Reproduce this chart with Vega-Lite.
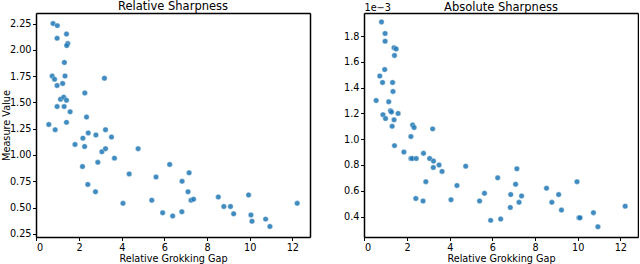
{
  "$schema": "https://vega.github.io/schema/vega-lite/v6.json",
  "padding": {"left": 0, "top": 0, "right": 0, "bottom": 0},
  "datasets": {
    "relative": [
      {"gap": 0.78, "value": 2.25}, {"gap": 0.98, "value": 2.23}, {"gap": 1.41, "value": 2.15}, {"gap": 0.97, "value": 2.11},
      {"gap": 1.47, "value": 2.06}, {"gap": 1.42, "value": 2.04}, {"gap": 1.31, "value": 1.88}, {"gap": 0.74, "value": 1.75},
      {"gap": 0.85, "value": 1.72}, {"gap": 1.34, "value": 1.75}, {"gap": 3.19, "value": 1.73}, {"gap": 1.23, "value": 1.68},
      {"gap": 0.97, "value": 1.66}, {"gap": 2.27, "value": 1.59}, {"gap": 1.13, "value": 1.53}, {"gap": 1.28, "value": 1.55},
      {"gap": 1.41, "value": 1.52}, {"gap": 0.97, "value": 1.46}, {"gap": 1.30, "value": 1.46}, {"gap": 1.58, "value": 1.41},
      {"gap": 2.35, "value": 1.36}, {"gap": 1.41, "value": 1.31}, {"gap": 0.58, "value": 1.29}, {"gap": 0.88, "value": 1.24},
      {"gap": 3.24, "value": 1.24}, {"gap": 1.81, "value": 1.10}, {"gap": 2.18, "value": 1.16}, {"gap": 2.43, "value": 1.21},
      {"gap": 2.79, "value": 1.19}, {"gap": 3.52, "value": 1.17}, {"gap": 2.26, "value": 1.08}, {"gap": 3.07, "value": 1.03},
      {"gap": 3.24, "value": 1.06}, {"gap": 4.77, "value": 1.06}, {"gap": 3.66, "value": 0.97}, {"gap": 2.88, "value": 0.93},
      {"gap": 2.16, "value": 0.89}, {"gap": 6.25, "value": 0.91}, {"gap": 4.35, "value": 0.82}, {"gap": 5.61, "value": 0.79},
      {"gap": 7.16, "value": 0.83}, {"gap": 6.83, "value": 0.75}, {"gap": 2.41, "value": 0.72}, {"gap": 2.77, "value": 0.65},
      {"gap": 7.11, "value": 0.65}, {"gap": 5.41, "value": 0.57}, {"gap": 4.06, "value": 0.54}, {"gap": 7.25, "value": 0.57},
      {"gap": 7.37, "value": 0.58}, {"gap": 8.53, "value": 0.60}, {"gap": 9.95, "value": 0.62}, {"gap": 8.79, "value": 0.51},
      {"gap": 9.10, "value": 0.51}, {"gap": 5.92, "value": 0.45}, {"gap": 6.82, "value": 0.46}, {"gap": 6.39, "value": 0.42},
      {"gap": 9.25, "value": 0.44}, {"gap": 10.06, "value": 0.43}, {"gap": 10.11, "value": 0.37}, {"gap": 10.75, "value": 0.39},
      {"gap": 10.95, "value": 0.32}, {"gap": 12.23, "value": 0.54}
    ],
    "absolute": [
      {"gap": 0.80, "value_e3": 1.91}, {"gap": 0.97, "value_e3": 1.82}, {"gap": 0.97, "value_e3": 1.76}, {"gap": 1.39, "value_e3": 1.71},
      {"gap": 1.49, "value_e3": 1.70}, {"gap": 1.41, "value_e3": 1.65}, {"gap": 0.95, "value_e3": 1.54}, {"gap": 0.72, "value_e3": 1.49},
      {"gap": 0.85, "value_e3": 1.44}, {"gap": 1.32, "value_e3": 1.44}, {"gap": 1.34, "value_e3": 1.37}, {"gap": 0.55, "value_e3": 1.30},
      {"gap": 1.14, "value_e3": 1.29}, {"gap": 1.22, "value_e3": 1.22}, {"gap": 1.27, "value_e3": 1.21}, {"gap": 1.58, "value_e3": 1.20},
      {"gap": 0.87, "value_e3": 1.19}, {"gap": 0.99, "value_e3": 1.16}, {"gap": 1.39, "value_e3": 1.15}, {"gap": 1.30, "value_e3": 1.10},
      {"gap": 2.26, "value_e3": 1.11}, {"gap": 2.33, "value_e3": 1.09}, {"gap": 1.41, "value_e3": 0.95}, {"gap": 1.85, "value_e3": 0.90},
      {"gap": 2.18, "value_e3": 0.85}, {"gap": 2.24, "value_e3": 0.85}, {"gap": 3.20, "value_e3": 1.08}, {"gap": 2.18, "value_e3": 1.02},
      {"gap": 2.77, "value_e3": 0.89}, {"gap": 2.43, "value_e3": 0.85}, {"gap": 3.06, "value_e3": 0.85}, {"gap": 3.24, "value_e3": 0.83},
      {"gap": 3.50, "value_e3": 0.80}, {"gap": 3.23, "value_e3": 0.78}, {"gap": 4.75, "value_e3": 0.79}, {"gap": 3.64, "value_e3": 0.75},
      {"gap": 7.15, "value_e3": 0.77}, {"gap": 6.25, "value_e3": 0.70}, {"gap": 2.88, "value_e3": 0.67}, {"gap": 4.34, "value_e3": 0.64},
      {"gap": 7.09, "value_e3": 0.65}, {"gap": 8.54, "value_e3": 0.62}, {"gap": 9.97, "value_e3": 0.67}, {"gap": 5.63, "value_e3": 0.58},
      {"gap": 6.86, "value_e3": 0.57}, {"gap": 7.37, "value_e3": 0.56}, {"gap": 9.11, "value_e3": 0.57}, {"gap": 2.41, "value_e3": 0.54},
      {"gap": 4.06, "value_e3": 0.53}, {"gap": 5.40, "value_e3": 0.52}, {"gap": 2.75, "value_e3": 0.52}, {"gap": 7.25, "value_e3": 0.51},
      {"gap": 8.79, "value_e3": 0.51}, {"gap": 6.84, "value_e3": 0.47}, {"gap": 9.24, "value_e3": 0.45}, {"gap": 12.23, "value_e3": 0.48},
      {"gap": 10.74, "value_e3": 0.43}, {"gap": 10.06, "value_e3": 0.39}, {"gap": 10.11, "value_e3": 0.39}, {"gap": 5.92, "value_e3": 0.37},
      {"gap": 6.39, "value_e3": 0.38}, {"gap": 10.95, "value_e3": 0.32}
    ]
  },
  "spacing": 54,
  "bounds": "flush",
  "hconcat": [
    {
      "width": 274,
      "height": 224,
      "title": {"text": "Relative Sharpness", "offset": 1},
      "data": {"name": "relative"},
      "layer": [
        {
          "mark": {"type": "circle", "size": 30, "color": "#1f77b4", "opacity": 0.85, "stroke": "#ffffff", "strokeWidth": 0.4},
          "encoding": {
            "x": {"field": "gap", "type": "quantitative",
              "scale": {"domain": [-0.02, 12.83], "nice": false, "zero": false},
              "axis": {"values": [0, 2, 4, 6, 8, 10, 12], "format": "d", "title": "Relative Grokking Gap", "titlePadding": 2}},
            "y": {"field": "value", "type": "quantitative",
              "scale": {"domain": [0.22, 2.35], "nice": false, "zero": false},
              "axis": {"values": [0.25, 0.5, 0.75, 1.0, 1.25, 1.5, 1.75, 2.0, 2.25], "format": ".2f", "title": "Measure Value", "titlePadding": -2}}
          }
        },
        {
          "mark": {"type": "point", "opacity": 0},
          "encoding": {
            "x": {"field": "gap", "type": "quantitative", "axis": {"orient": "top", "labels": false, "ticks": false, "title": null, "domainColor": "#000000", "domainWidth": 1.5}},
            "y": {"field": "value", "type": "quantitative", "axis": {"orient": "right", "labels": false, "ticks": false, "title": null, "domainColor": "#000000", "domainWidth": 1.5}}
          }
        }
      ],
      "resolve": {"axis": {"x": "independent", "y": "independent"}}
    },
    {
      "width": 274,
      "height": 224,
      "title": {"text": "Absolute Sharpness", "offset": -11},
      "data": {"name": "absolute"},
      "layer": [
        {
          "mark": {"type": "circle", "size": 30, "color": "#1f77b4", "opacity": 0.85, "stroke": "#ffffff", "strokeWidth": 0.4},
          "encoding": {
            "x": {"field": "gap", "type": "quantitative",
              "scale": {"domain": [-0.02, 12.83], "nice": false, "zero": false},
              "axis": {"values": [0, 2, 4, 6, 8, 10, 12], "format": "d", "title": "Relative Grokking Gap", "titlePadding": 2}},
            "y": {"field": "value_e3", "type": "quantitative",
              "scale": {"domain": [0.241, 1.979], "nice": false, "zero": false},
              "axis": {"values": [0.4, 0.6, 0.8, 1.0, 1.2, 1.4, 1.6, 1.8], "format": ".1f", "title": "1e−3",
                "titleAngle": 0, "titleX": 0, "titleY": -3, "titleAlign": "left", "titleBaseline": "alphabetic"}}
          }
        },
        {
          "mark": {"type": "point", "opacity": 0},
          "encoding": {
            "x": {"field": "gap", "type": "quantitative", "axis": {"orient": "top", "labels": false, "ticks": false, "title": null, "domainColor": "#000000", "domainWidth": 1.5}},
            "y": {"field": "value_e3", "type": "quantitative", "axis": {"orient": "right", "labels": false, "ticks": false, "title": null, "domainColor": "#000000", "domainWidth": 1.5}}
          }
        }
      ],
      "resolve": {"axis": {"x": "independent", "y": "independent"}}
    }
  ],
  "config": {
    "font": "DejaVu Sans",
    "axis": {"grid": false, "domainColor": "#000000", "tickColor": "#000000", "labelColor": "#000000", "titleColor": "#000000",
      "labelFontSize": 9.7, "titleFontSize": 9.7, "titleFontWeight": "normal", "tickSize": 3.5, "labelPadding": 1.5,
      "domainWidth": 1.5, "tickWidth": 1},
    "title": {"fontSize": 11.5, "fontWeight": "normal", "color": "#000000"}
  }
}
